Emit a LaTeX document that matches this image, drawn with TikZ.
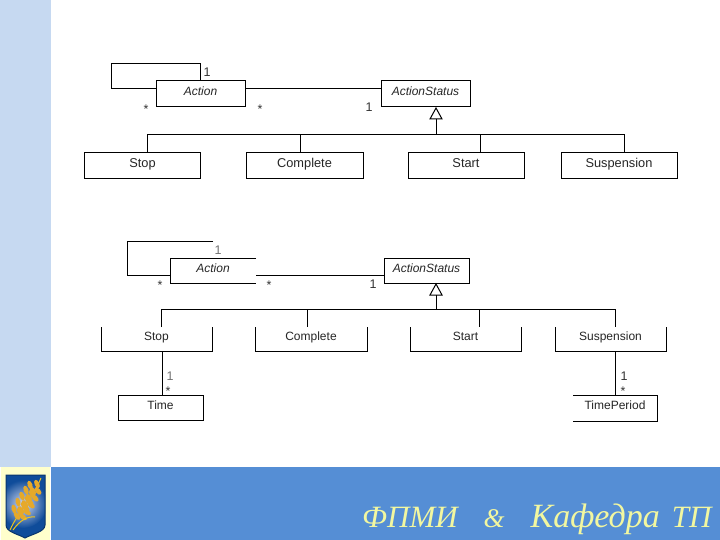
\documentclass[tikz,border=0pt]{standalone}
\usepackage{fontspec}
\setmainfont{Liberation Sans}
\newfontfamily\bandfont{Liberation Serif}
\definecolor{stripblue}{HTML}{C6D9F1}
\definecolor{bandblue}{HTML}{558ED5}
\definecolor{paleyel}{HTML}{FFFFCC}
\definecolor{bandtext}{HTML}{F2F7A0}
\definecolor{shieldtop}{HTML}{0F4C9A}
\definecolor{shieldmid}{HTML}{D4DBF2}
\definecolor{wheat}{HTML}{E6A92A}
\begin{document}
\begin{tikzpicture}[x=1pt,y=-1pt,
  box/.style={minimum width=#1,minimum height=26pt,inner sep=0pt,outer sep=0pt,font=\fontsize{12.8}{14}\selectfont,text=black!85,text height=9.5pt,text depth=3.5pt},
  absbox/.style={box=#1,font=\fontsize{12}{14}\selectfont\itshape},
  wire/.style={line width=1pt,black},
  mult/.style={font=\fontsize{12.5}{14}\selectfont,inner sep=0pt,text=black!80}]
\useasboundingbox (0,0) rectangle (720,540);
\fill[white] (0,0) rectangle (720,540);
\fill[stripblue] (0,0) rectangle (51,467);
\fill[bandblue] (51,467) rectangle (720,540);
% logo
\fill[paleyel] (1,467) rectangle (50,540);
\begin{scope}
\clip (6,475) -- (45,475) -- (45,525) .. controls (45,532) and (32,534) .. (25,538) .. controls (18,534) and (6,532) .. (6,525) -- cycle;
\fill[shieldtop] (0,470) rectangle (50,540);
\shade[inner color=shieldmid,outer color=shieldtop] (23,504) circle (24pt);
\end{scope}
\draw[line width=1pt,shieldtop!70!black] (6,475) -- (45,475) -- (45,525) .. controls (45,532) and (32,534) .. (25,538) .. controls (18,534) and (6,532) .. (6,525) -- cycle;
\draw[line width=1pt,wheat!70!yellow] (10,530) .. controls (18,512) and (32,500) .. (41,478);
\foreach \x/\y/\a in {17/516/-55,21/510/-55,25/504/-55,29/498/-60,33/491/-60,37/484/-65,23/517/-35,27/512/-35,31/505/-40,35/498/-45,38/491/-50,14/509/-75,18/502/-75,22/496/-70,26/490/-70,30/485/-70,20/512/-55,24/506/-55,28/500/-55,32/494/-60,26/508/-45,30/502/-45}
  \fill[wheat,rotate around={\a:(\x,\y)}] (\x,\y) ellipse (4.5pt and 2.4pt);
\draw[line width=1pt,wheat!70!yellow] (13,530) .. controls (20,520) and (28,516) .. (35,517);
% --- upper diagram
\node[absbox=89pt,draw,line width=1pt] (a1) at (200.5,94) {\raisebox{1.5pt}{Action}};
\node[absbox=89pt,draw,line width=1pt] (as1) at (425.5,94) {\raisebox{1.5pt}{ActionStatus}};
\node[box=116pt,draw,line width=1pt] (stop1) at (142,166) {\hspace{1pt}\raisebox{1.5pt}{Stop}};
\node[box=117pt,draw,line width=1pt] (comp1) at (304.5,166) {\raisebox{1.5pt}{Complete}};
\node[box=116pt,draw,line width=1pt] (start1) at (466,166) {\raisebox{1.5pt}{Start}};
\node[box=116pt,draw,line width=1pt] (susp1) at (619,166) {\raisebox{1.5pt}{Suspension}};
\coordinate (b1) at (436,135);
\coordinate (t1) at (436,119);
\coordinate (loop1) at (111,64);
\draw[wire] (a1.north) |- (loop1) |- ([yshift=5pt]a1.west);
\draw[wire] ([yshift=5pt]a1.east) -- ([yshift=5pt]as1.west);
\draw[wire] (436,108) -- (430,119) -- (442,119) -- cycle;
\draw[wire] (t1) -- (b1);
\draw[wire] (147,153) |- (624,135) -- (624,153);
\draw[wire] (300,135) -- (300,153);
\draw[wire] (480,135) -- (480,153);
\node[mult] at (207,72) {1};
\node[mult] at (146,109) {*};
\node[mult] at (260,109) {*};
\node[mult] at (369,107) {1};
% --- lower diagram
\node[absbox=86pt,minimum height=25pt] (a2) at (213,270.5) {\raisebox{1.5pt}{Action}};
\node[absbox=85pt,minimum height=25pt,draw,line width=1pt] (as2) at (426.5,270.5) {\raisebox{1.5pt}{ActionStatus}};
\node[box=111pt,minimum height=24pt,font=\fontsize{12}{14}\selectfont] (stop2) at (156.5,339) {\raisebox{1.5pt}{Stop}};
\node[box=112pt,minimum height=24pt,font=\fontsize{12}{14}\selectfont] (comp2) at (311,339) {\raisebox{1.5pt}{Complete}};
\node[box=111pt,minimum height=24pt,font=\fontsize{12}{14}\selectfont] (start2) at (465.5,339) {\raisebox{1.5pt}{Start}};
\node[box=111pt,minimum height=24pt,font=\fontsize{12}{14}\selectfont] (susp2) at (610.5,339) {\raisebox{1.5pt}{Suspension}};
\node[box=85pt,minimum height=25pt,draw,line width=1pt,font=\fontsize{12}{14}\selectfont] (time) at (160.5,407.5) {\raisebox{1.5pt}{Time}};
\node[box=84pt,minimum height=26pt,font=\fontsize{12}{14}\selectfont] (tp) at (615,408) {\raisebox{1.5pt}{TimePeriod}};
\draw[wire] (a2.north east) -- (a2.north west) -- (a2.south west) -- (a2.south east);
\foreach \n in {stop2,comp2,start2,susp2}
  \draw[wire] (\n.north west) -- (\n.south west) -- (\n.south east) -- (\n.north east);
\draw[wire] (tp.north west) -- (tp.north east) -- (tp.south east) -- (tp.south west);
\coordinate (lt) at (213,241);
\draw[wire] (lt) -| (127,275) -- (a2.west |- 0,275);
\draw[wire] (a2.east |- 0,275) -- (as2.west |- 0,275);
\coordinate (b2) at (436,309);
\coordinate (t2) at (436,295);
\draw[wire] (436,284) -- (430,295) -- (442,295) -- cycle;
\draw[wire] (t2) -- (b2);
\draw[wire] (161,327) |- (615,309) -- (615,327);
\draw[wire] (307,309) -- (307,327);
\draw[wire] (479,309) -- (479,327);
\draw[wire] (162,351) -- (162,395);
\draw[wire] (615,351) -- (615,395);
\node[mult,text=black!55] at (218,250) {1};
\node[mult] at (160,285) {*};
\node[mult] at (269,285) {*};
\node[mult] at (373,284) {1};
\node[mult,text=black!55] at (170,376) {1};
\node[mult] at (168,391) {*};
\node[mult] at (624,376) {1};
\node[mult] at (623,391) {*};
% band text
\node[anchor=base west,inner sep=0pt,text=bandtext,font=\bandfont\itshape\fontsize{34}{36}\selectfont] (bt) at (362,527) {{\fontsize{31}{36}\selectfont ФПМИ}\hspace{26pt}{\fontsize{27}{36}\selectfont\&}\hspace{26pt}Кафедра\hspace{12pt}{\fontsize{31}{36}\selectfont ТП}};
\end{tikzpicture}
\end{document}
